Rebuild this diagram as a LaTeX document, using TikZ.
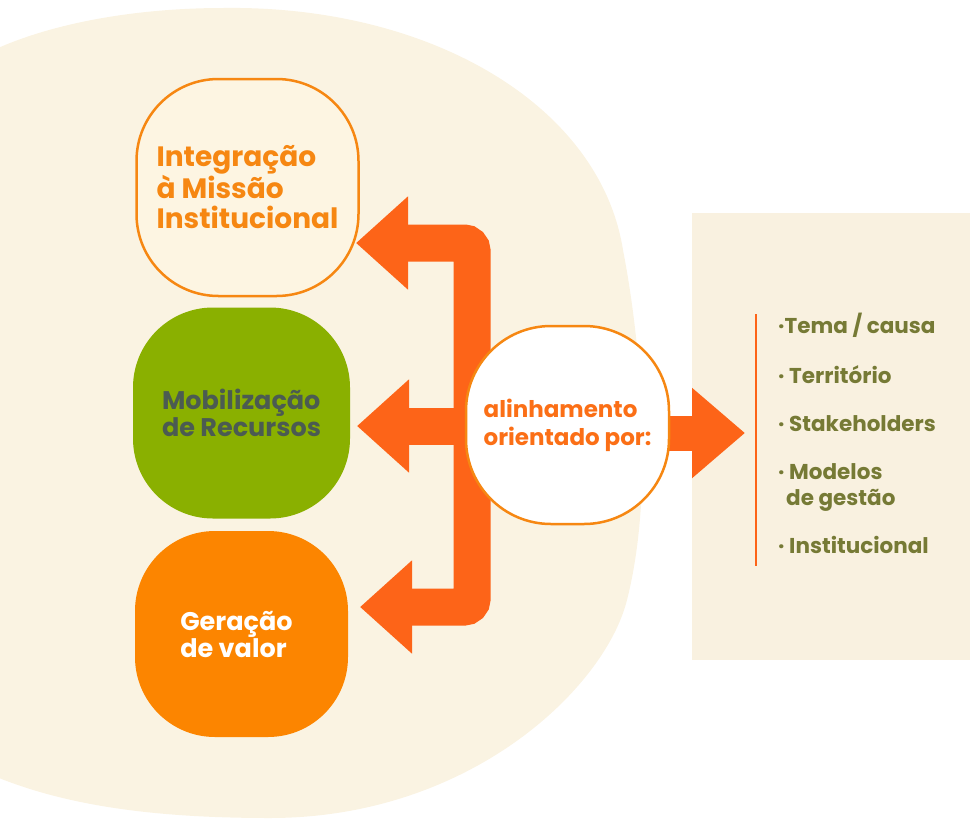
\documentclass[tikz,border=0pt]{standalone}
\usepackage{fontspec}
\setmainfont{Poppins}
\usetikzlibrary{arrows.meta,positioning,calc}

\definecolor{blobcream}{HTML}{FAF3E2}
\definecolor{panelcream}{HTML}{F9F1E0}
\definecolor{integfill}{HTML}{FDF5E2}
\definecolor{integorange}{HTML}{F68712}
\definecolor{mobgreen}{HTML}{8AB000}
\definecolor{mobtext}{HTML}{4B5B52}
\definecolor{gerorange}{HTML}{FC8500}
\definecolor{arrowred}{HTML}{FD6418}
\definecolor{midtext}{HTML}{FB6F16}
\definecolor{olive}{HTML}{767A35}

\pgfdeclarelayer{back}
\pgfdeclarelayer{arms}
\pgfsetlayers{back,arms,main}

\tikzset{
  box/.style={rectangle, rounded corners=82pt, align=left, inner sep=0pt},
  fatarrow/.style={draw=arrowred, line width=37pt, rounded corners=8pt,
    -{Triangle[length=52pt,width=90pt]}},
  item/.style={anchor=base west, inner sep=0pt, text=olive,
    font=\fontsize{21.5}{24}\selectfont\bfseries}
}

\begin{document}
\begin{tikzpicture}[x=1pt,y=-1pt]
  \useasboundingbox (0,0) rectangle (970,820);
  \clip (0,0) rectangle (970,820);

  % background blob and list panel
  \begin{pgfonlayer}{back}
    \fill[blobcream] (-30,62) .. controls (40,22) and (140,8) .. (223,8)
      .. controls (430,5) and (600,105) .. (623,250)
      .. controls (640,337) and (655,490) .. (627,600)
      .. controls (605,688) and (470,818) .. (270,818)
      .. controls (150,818) and (50,805) .. (-30,765) -- cycle;
    \fill[panelcream] (692,213) rectangle (970,660);
    \draw[arrowred, line width=2pt] (756,314) -- (756,566);
  \end{pgfonlayer}

  % the three areas
  \node[box, draw=integorange, line width=2.5pt, fill=integfill, text=integorange,
    minimum width=222pt, minimum height=217pt,
    font=\fontsize{28}{30}\selectfont\bfseries]
    (integ) at (247.5,187.5) {Integração\\à Missão\\Institucional};
  \node[box, fill=mobgreen, text=mobtext, rounded corners=80pt,
    minimum width=217pt, minimum height=211pt,
    font=\fontsize{25.5}{25}\selectfont\bfseries]
    (mob) at (241.5,413) {Mobilização\\de Recursos};
  \node[box, fill=gerorange, text=white, rounded corners=80pt,
    minimum width=213pt, minimum height=206pt,
    font=\fontsize{25.5}{27}\selectfont\bfseries]
    (ger) at (241.5,634) {Geração\\de valor\hspace*{16pt}};

  % centre
  \node[box, draw=integorange, line width=2.5pt, fill=white, text=midtext,
    rounded corners=85pt, minimum width=203pt, minimum height=198pt,
    font=\fontsize{23}{28}\selectfont\bfseries]
    (mid) at (567.5,425) {alinhamento\\orientado por:};

  % arrows
  \coordinate (hub) at (472,426);
  \coordinate (tipA) at (356,243);
  \coordinate (tipB) at (357,426);
  \coordinate (tipC) at (360,607);
  \coordinate (tipR) at (745,433);
  \begin{pgfonlayer}{arms}
    \draw[fatarrow] (hub) |- (tipA);
    \draw[fatarrow] (hub) -- (tipB);
    \draw[fatarrow] (hub) |- (tipC);
    \draw[fatarrow, line width=35pt, -{Triangle[length=53pt,width=87pt]}]
      ([xshift=-20pt]mid.east |- tipR) -- (tipR);
  \end{pgfonlayer}

  % list
  \node[item] (tema) at (778,333) {·Tema / causa};
  \node[item] (terr) at (778,383) {· Território};
  \node[item] (stake) at (778,431) {· Stakeholders};
  \node[item] (model) at (778,479) {· Modelos};
  \node[item] (gest) at (786,505) {de gestão};
  \node[item] (inst) at (778,553) {· Institucional};
\end{tikzpicture}
\end{document}
